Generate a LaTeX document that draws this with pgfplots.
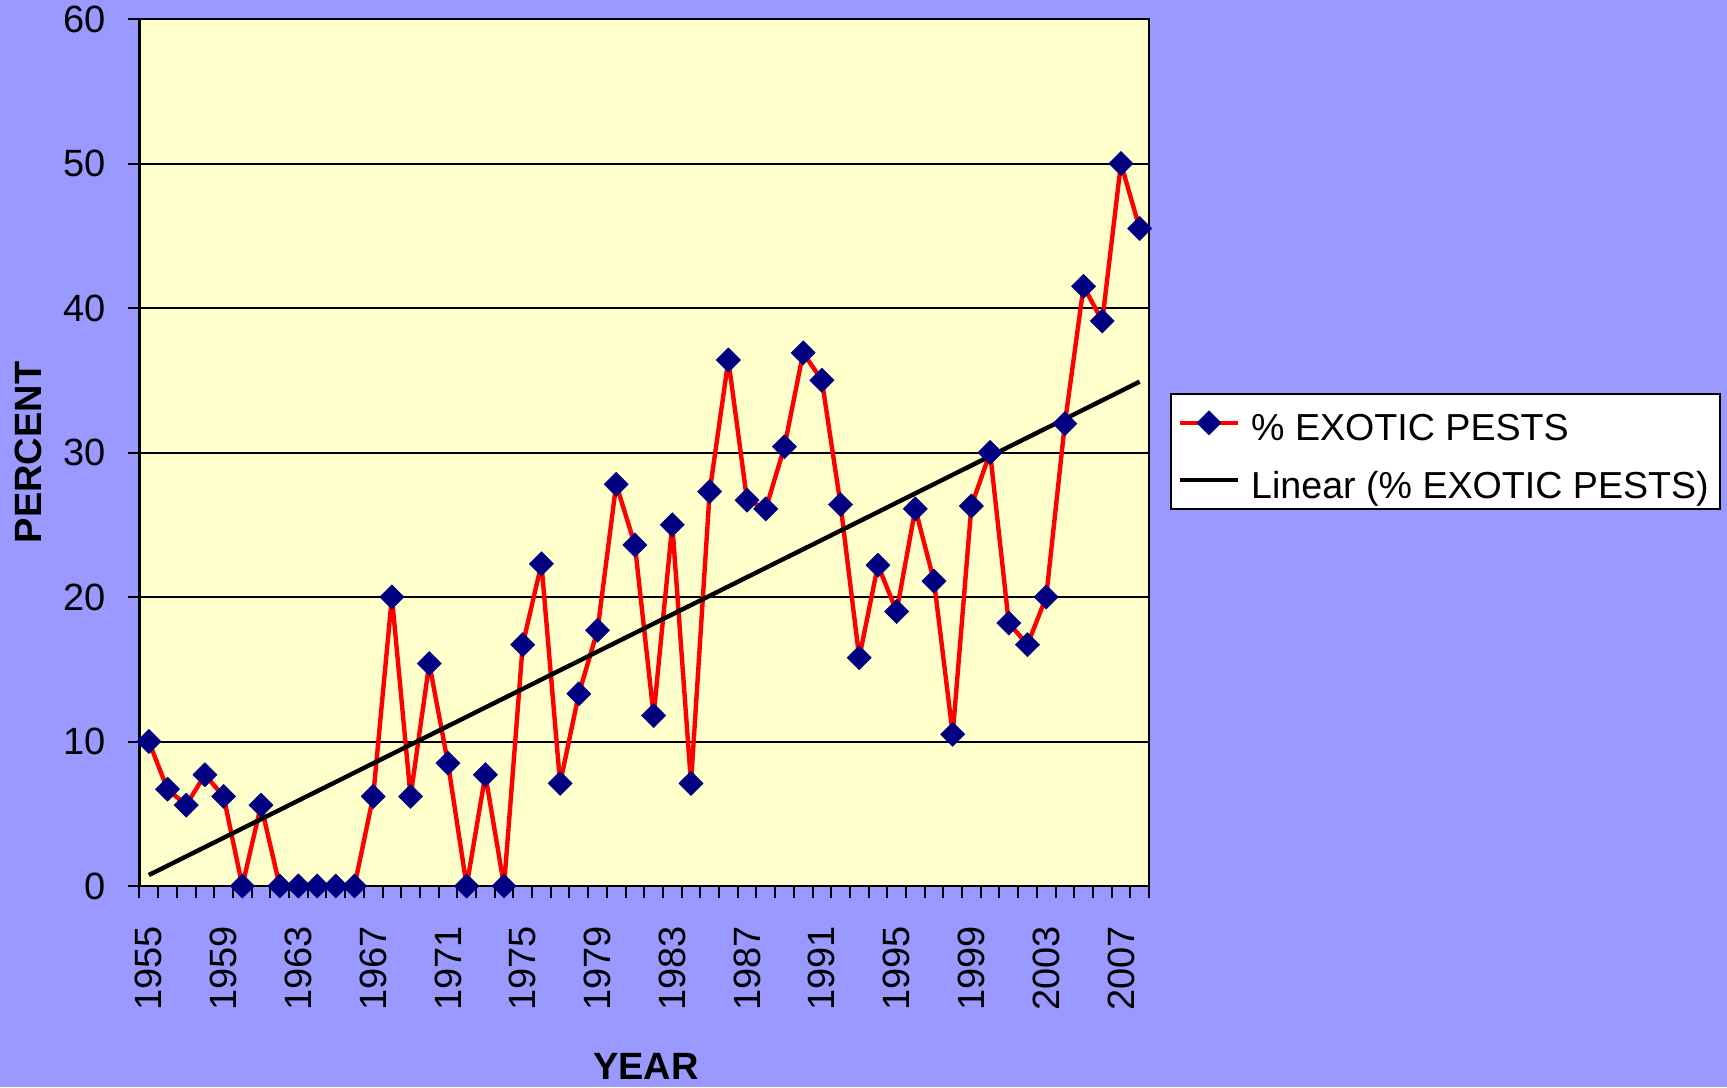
\documentclass[border=0pt]{standalone}
\usepackage{fontspec}
\setmainfont{Liberation Sans}
\usepackage{pgfplots}
\pgfplotsset{compat=1.18}
\definecolor{bgblue}{HTML}{9999FF}
\definecolor{plotyellow}{HTML}{FFFFCC}
\definecolor{navy}{HTML}{000080}
\begin{document}
\begin{tikzpicture}
\fill[bgblue] (-69.75pt,-100.5pt) rectangle (793.75pt,443pt);
\useasboundingbox (-69.75pt,-100.5pt) rectangle (793.75pt,443pt);
\begin{axis}[
  scale only axis, width=504.75pt, height=433.5pt,
  at={(0,0)}, anchor=south west,
  xmin=1954.5, xmax=2008.5, ymin=0, ymax=60,
  clip=false,
  axis background/.style={fill=plotyellow},
  axis line style={black, line width=1.2pt},
  /pgf/number format/assume math mode=true,
  tick label style={font=\fontsize{19}{22}\selectfont},
  ytick={0,10,...,60},
  xtick={1954.5,1955.5,...,2008.5},
  xticklabels={},
  extra x ticks={1955,1959,...,2007},
  extra x tick labels={1955,1959,1963,1967,1971,1975,1979,1983,1987,1991,1995,1999,2003,2007},
  extra x tick style={major tick length=0pt,
    xticklabel style={yshift=-20pt, rotate=90, anchor=east, inner sep=0pt}},
  tick pos=left,
  tick align=outside,
  major tick length=6pt,
  tick style={black, line width=1pt},
  yticklabel style={inner sep=0pt, anchor=east, xshift=-10.5pt},
  ymajorgrids, major grid style={black, line width=1pt},
  ylabel={PERCENT},
  ylabel style={at={(axis description cs:-0.1105,0.5)}, anchor=center, font=\bfseries\fontsize{19}{22}\selectfont},
  xlabel={YEAR},
  xlabel style={at={(axis description cs:0.5017,-0.2076)}, anchor=center, font=\bfseries\fontsize{19}{22}\selectfont},
  legend style={at={(1.0208,0.5686)}, anchor=north west, draw=black, line width=1pt, fill=white,
    font=\fontsize{18.8}{22}\selectfont, inner sep=3.4pt, row sep=6.6pt, column sep=3.5pt,
    nodes={inner sep=2pt, text height=18pt, text depth=0pt}},
  legend cell align=left,
  legend image code/.code={\draw[mark repeat=2,mark phase=2,#1] plot coordinates {(0pt,0pt) (14.5pt,0pt) (29pt,0pt)};},
]
\addplot[red, line width=2.2pt, line join=round, mark=square*, mark size=4.3pt,
  mark options={fill=navy, draw=navy, rotate=45, solid, line width=0.2pt}] coordinates {
(1955,10.0) (1956,6.7) (1957,5.6) (1958,7.7) (1959,6.2) (1960,0) (1961,5.6) (1962,0)
(1963,0) (1964,0) (1965,0) (1966,0) (1967,6.2) (1968,20.0) (1969,6.2) (1970,15.4)
(1971,8.5) (1972,0) (1973,7.7) (1974,0) (1975,16.7) (1976,22.3) (1977,7.1) (1978,13.3)
(1979,17.7) (1980,27.8) (1981,23.6) (1982,11.8) (1983,25.0) (1984,7.1) (1985,27.3) (1986,36.4)
(1987,26.7) (1988,26.1) (1989,30.4) (1990,36.9) (1991,35.0) (1992,26.4) (1993,15.8) (1994,22.2)
(1995,19.0) (1996,26.1) (1997,21.1) (1998,10.5) (1999,26.3) (2000,30.0) (2001,18.2) (2002,16.7)
(2003,20.0) (2004,32.0) (2005,41.5) (2006,39.1) (2007,50.0) (2008,45.5)
};
\addlegendentry{\% EXOTIC PESTS}
\addplot[black, line width=2.2pt] coordinates {(1955,0.76) (2008,34.9)};
\addlegendentry{Linear (\% EXOTIC PESTS)}
\end{axis}
\end{tikzpicture}
\end{document}
